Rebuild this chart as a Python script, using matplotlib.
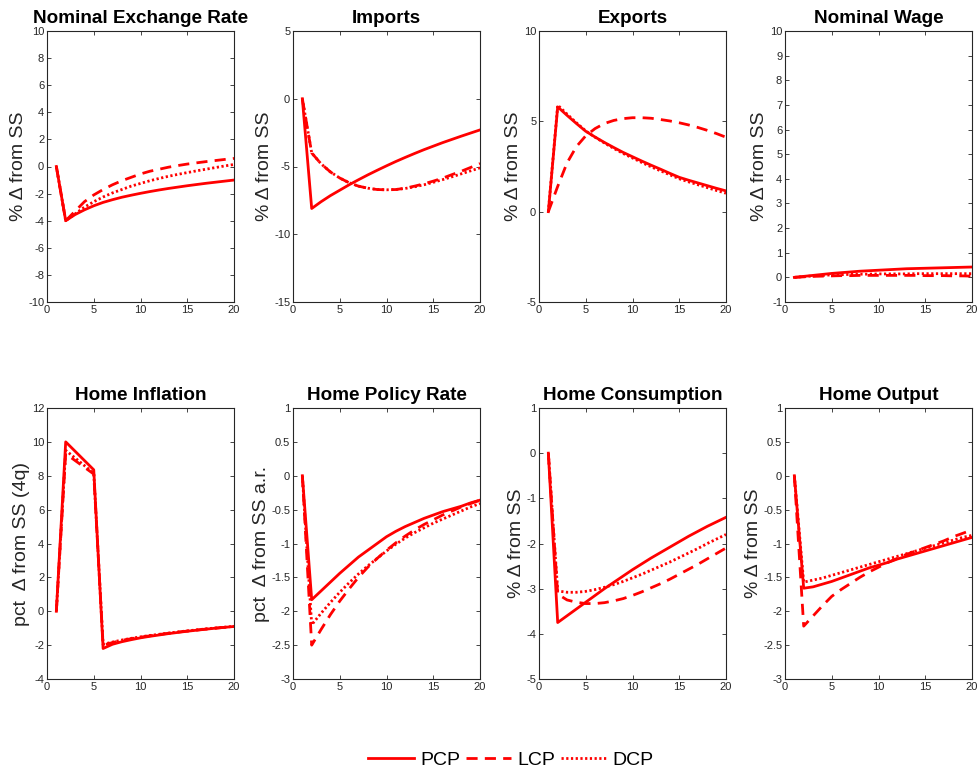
import matplotlib
matplotlib.use("Agg")
import matplotlib.pyplot as plt

plt.rcParams['font.family'] = ['Liberation Sans', 'DejaVu Sans']

quarters = list(range(1, 21))

titles = ["Nominal Exchange Rate", "Imports", "Exports", "Nominal Wage",
          "Home Inflation", "Home Policy Rate", "Home Consumption", "Home Output"]
ylabels = ["% \u0394 from SS", "% \u0394 from SS", "% \u0394 from SS", "% \u0394 from SS",
           "pct  \u0394 from SS (4q)", "pct  \u0394 from SS a.r.", "% \u0394 from SS", "% \u0394 from SS"]

# PCP / LCP / DCP impulse responses, one list per panel
exch_pcp = [0, -4.0, -3.55, -3.2, -2.9, -2.65, -2.45, -2.27, -2.12, -1.98, -1.85, -1.73, -1.62, -1.52, -1.42, -1.33, -1.24, -1.16, -1.08, -1.0]
exch_lcp = [0, -4.0, -3.3, -2.6, -2.1, -1.7, -1.35, -1.05, -0.8, -0.55, -0.35, -0.2, -0.05, 0.07, 0.18, 0.27, 0.36, 0.44, 0.52, 0.6]
exch_dcp = [0, -4.0, -3.5, -3.0, -2.6, -2.25, -1.95, -1.7, -1.45, -1.25, -1.05, -0.88, -0.72, -0.58, -0.45, -0.32, -0.2, -0.08, 0.04, 0.15]

imp_pcp = [0, -8.1, -7.6, -7.15, -6.75, -6.35, -5.98, -5.62, -5.28, -4.95, -4.63, -4.33, -4.04, -3.76, -3.5, -3.24, -3.0, -2.76, -2.53, -2.3]
imp_lcp = [0, -4.0, -4.8, -5.4, -5.85, -6.2, -6.45, -6.6, -6.7, -6.72, -6.7, -6.6, -6.45, -6.28, -6.08, -5.86, -5.6, -5.35, -5.07, -4.78]
imp_dcp = [0, -4.0, -4.8, -5.4, -5.85, -6.2, -6.45, -6.6, -6.7, -6.72, -6.7, -6.62, -6.5, -6.35, -6.17, -5.97, -5.76, -5.54, -5.32, -5.1]

exp_pcp = [0, 5.8, 5.33, 4.88, 4.45, 4.13, 3.83, 3.55, 3.28, 3.04, 2.8, 2.57, 2.35, 2.12, 1.9, 1.74, 1.59, 1.44, 1.29, 1.15]
exp_lcp = [0, 1.4, 2.7, 3.6, 4.2, 4.6, 4.88, 5.05, 5.15, 5.2, 5.2, 5.17, 5.1, 5.02, 4.92, 4.8, 4.66, 4.5, 4.32, 4.12]
exp_dcp = [0, 5.9, 5.4, 4.92, 4.47, 4.12, 3.8, 3.5, 3.22, 2.97, 2.72, 2.48, 2.26, 2.04, 1.82, 1.65, 1.49, 1.33, 1.17, 1.02]

wage_pcp = [0, 0.04, 0.08, 0.12, 0.16, 0.19, 0.22, 0.25, 0.27, 0.29, 0.31, 0.33, 0.35, 0.36, 0.37, 0.38, 0.39, 0.40, 0.41, 0.42]
wage_lcp = [0, 0.02, 0.04, 0.05, 0.06, 0.07, 0.07, 0.08, 0.08, 0.08, 0.08, 0.08, 0.08, 0.08, 0.07, 0.07, 0.07, 0.06, 0.06, 0.05]
wage_dcp = [0, 0.03, 0.06, 0.08, 0.10, 0.11, 0.12, 0.13, 0.13, 0.14, 0.14, 0.14, 0.14, 0.15, 0.15, 0.15, 0.15, 0.15, 0.15, 0.15]

infl_pcp = [0, 10.0, 9.45, 8.9, 8.35, -2.2, -1.95, -1.8, -1.68, -1.57, -1.48, -1.4, -1.32, -1.25, -1.18, -1.12, -1.06, -1.0, -0.95, -0.9]
infl_lcp = [0, 9.3, 8.9, 8.5, 8.1, -2.0, -1.85, -1.72, -1.62, -1.53, -1.45, -1.37, -1.3, -1.23, -1.17, -1.11, -1.05, -1.0, -0.95, -0.9]
infl_dcp = [0, 9.5, 9.05, 8.6, 8.15, -1.95, -1.82, -1.7, -1.6, -1.51, -1.43, -1.36, -1.29, -1.22, -1.16, -1.1, -1.04, -0.99, -0.94, -0.89]

rate_pcp = [0, -1.83, -1.7, -1.57, -1.44, -1.32, -1.2, -1.1, -1.0, -0.9, -0.82, -0.75, -0.69, -0.63, -0.58, -0.53, -0.49, -0.45, -0.4, -0.36]
rate_lcp = [0, -2.5, -2.27, -2.05, -1.85, -1.67, -1.5, -1.35, -1.22, -1.1, -0.99, -0.89, -0.8, -0.72, -0.65, -0.58, -0.52, -0.46, -0.41, -0.36]
rate_dcp = [0, -2.2, -2.03, -1.87, -1.72, -1.58, -1.45, -1.33, -1.22, -1.11, -1.01, -0.92, -0.84, -0.77, -0.7, -0.64, -0.58, -0.52, -0.46, -0.41]

cons_pcp = [0, -3.75, -3.6, -3.45, -3.3, -3.15, -3.0, -2.86, -2.72, -2.58, -2.45, -2.32, -2.2, -2.08, -1.96, -1.84, -1.73, -1.62, -1.52, -1.42]
cons_lcp = [0, -3.12, -3.25, -3.3, -3.33, -3.33, -3.31, -3.27, -3.22, -3.15, -3.07, -2.98, -2.89, -2.79, -2.68, -2.57, -2.46, -2.34, -2.22, -2.1]
cons_dcp = [0, -3.05, -3.08, -3.08, -3.06, -3.02, -2.97, -2.91, -2.84, -2.76, -2.68, -2.59, -2.5, -2.41, -2.31, -2.21, -2.11, -2.0, -1.9, -1.8]

out_pcp = [0, -1.66, -1.64, -1.6, -1.56, -1.51, -1.46, -1.41, -1.36, -1.32, -1.28, -1.23, -1.19, -1.15, -1.11, -1.07, -1.03, -0.99, -0.95, -0.91]
out_lcp = [0, -2.22, -2.07, -1.92, -1.78, -1.68, -1.59, -1.5, -1.42, -1.35, -1.28, -1.22, -1.16, -1.11, -1.06, -1.01, -0.96, -0.9, -0.85, -0.8]
out_dcp = [0, -1.57, -1.54, -1.51, -1.47, -1.43, -1.39, -1.35, -1.31, -1.27, -1.23, -1.19, -1.15, -1.11, -1.07, -1.03, -0.99, -0.95, -0.91, -0.88]

panels = [
    (exch_pcp, exch_lcp, exch_dcp),
    (imp_pcp, imp_lcp, imp_dcp),
    (exp_pcp, exp_lcp, exp_dcp),
    (wage_pcp, wage_lcp, wage_dcp),
    (infl_pcp, infl_lcp, infl_dcp),
    (rate_pcp, rate_lcp, rate_dcp),
    (cons_pcp, cons_lcp, cons_dcp),
    (out_pcp, out_lcp, out_dcp),
]

ylims = [(-10, 10), (-15, 5), (-5, 10), (-1, 10), (-4, 12), (-3, 1), (-5, 1), (-3, 1)]
yticks = [
    list(range(-10, 11, 2)),
    [-15, -10, -5, 0, 5],
    [-5, 0, 5, 10],
    list(range(-1, 11)),
    list(range(-4, 13, 2)),
    [-3, -2.5, -2, -1.5, -1, -0.5, 0, 0.5, 1],
    [-5, -4, -3, -2, -1, 0, 1],
    [-3, -2.5, -2, -1.5, -1, -0.5, 0, 0.5, 1],
]
xticks = [0, 5, 10, 15, 20]

series_names = ["PCP", "LCP", "DCP"]
styles = [
    dict(linestyle="-"),
    dict(linestyle=(0, (4.0, 2.6))),
    dict(linestyle=(0, (0.8, 0.9))),
]
red = "#ff0000"
axis_col = "#262626"

W, H = 977, 773
fig = plt.figure(figsize=(W / 100, H / 100), dpi=100)

col_left = [47, 293, 539, 785]
row_top = [31, 408]
ax_w, ax_h = 187, 271

handles = []
for i, (title, ylab) in enumerate(zip(titles, ylabels)):
    r, c = divmod(i, 4)
    left = col_left[c] / W
    bottom = (H - row_top[r] - ax_h) / H
    ax = fig.add_axes([left, bottom, ax_w / W, ax_h / H])
    for name, data, st in zip(series_names, panels[i], styles):
        ln, = ax.plot(quarters, data, color=red, linewidth=2.0, label=name, **st)
        if i == 0:
            handles.append(ln)
    ax.set_xlim(0, 20)
    ax.set_ylim(*ylims[i])
    ax.set_xticks(xticks)
    ax.set_yticks(yticks[i])
    ax.set_yticklabels([f"{v:g}" for v in yticks[i]])
    ax.tick_params(direction="in", top=True, right=True, length=3, width=0.6,
                   labelsize=8, colors=axis_col, pad=2)
    for sp in ax.spines.values():
        sp.set_color(axis_col)
        sp.set_linewidth(0.8)
    ax.set_title(title, fontsize=13.6, fontweight="bold", pad=5.5)
    ax.set_ylabel(ylab, fontsize=14, color=axis_col, labelpad=1)

leg = fig.legend(handles=handles, labels=series_names, loc="center",
                 bbox_to_anchor=(511 / W, 1 - 760 / H), ncol=3, frameon=False,
                 fontsize=14, handlelength=2.35, handletextpad=0.3, columnspacing=0.3)

fig.savefig("out.png", dpi=100)
